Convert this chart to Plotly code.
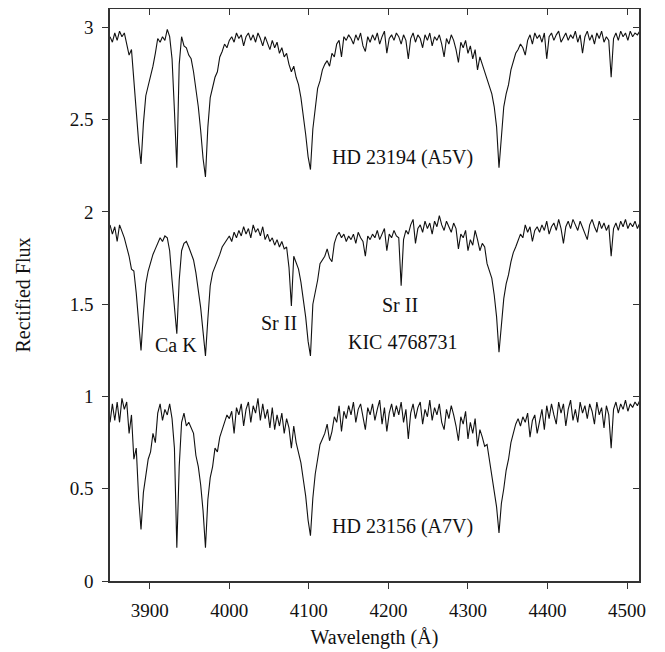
import plotly.graph_objects as go

# Wavelength sampling grid (Angstrom), 3 A steps from 3850 to 4516
wavelength = list(range(3850, 4517, 3))

# Rectified flux (each spectrum ~1 at continuum), rows of 10 samples = 30 A
flux_hd23194 = [
    0.95, 0.92, 0.97, 0.93, 0.98, 0.95, 0.97, 0.90, 0.85, 0.88,  # 3850
    0.70, 0.55, 0.38, 0.26, 0.48, 0.63, 0.68, 0.73, 0.79, 0.86,  # 3880
    0.94, 0.92, 0.95, 0.93, 0.99, 0.95, 0.83, 0.55, 0.24, 0.80,  # 3910
    0.95, 0.90, 0.89, 0.85, 0.83, 0.76, 0.67, 0.57, 0.44, 0.29,  # 3940
    0.19, 0.46, 0.62, 0.68, 0.73, 0.76, 0.84, 0.87, 0.91, 0.89,  # 3970
    0.93, 0.95, 0.92, 0.97, 0.94, 0.96, 0.90, 0.95, 0.97, 0.93,  # 4000
    0.96, 0.92, 0.97, 0.94, 0.90, 0.95, 0.91, 0.88, 0.93, 0.89,  # 4030
    0.92, 0.86, 0.89, 0.84, 0.86, 0.80, 0.76, 0.79, 0.73, 0.69,  # 4060
    0.62, 0.53, 0.42, 0.30, 0.23, 0.45, 0.58, 0.67, 0.71, 0.77,  # 4090
    0.80, 0.82, 0.79, 0.86, 0.84, 0.91, 0.93, 0.84, 0.95, 0.93,  # 4120
    0.96, 0.94, 0.91, 0.96, 0.93, 0.97, 0.90, 0.87, 0.95, 0.92,  # 4150
    0.96, 0.93, 0.97, 0.91, 0.95, 0.98, 0.86, 0.94, 0.96, 0.93,  # 4180
    0.97, 0.95, 0.91, 0.96, 0.93, 0.83, 0.94, 0.97, 0.92, 0.96,  # 4210
    0.94, 0.89, 0.96, 0.93, 0.97, 0.90, 0.95, 0.93, 0.96, 0.91,  # 4240
    0.84, 0.94, 0.91, 0.96, 0.93, 0.88, 0.81, 0.92, 0.89, 0.93,  # 4270
    0.86, 0.90, 0.83, 0.88, 0.77, 0.84, 0.80, 0.76, 0.73, 0.69,  # 4300
    0.64, 0.57, 0.46, 0.24, 0.40, 0.57, 0.64, 0.69, 0.77, 0.81,  # 4330
    0.86, 0.88, 0.91, 0.89, 0.85, 0.93, 0.96, 0.91, 0.97, 0.94,  # 4360
    0.96, 0.92, 0.97, 0.83, 0.95, 0.97, 0.93, 0.96, 0.98, 0.92,  # 4390
    0.95, 0.97, 0.93, 0.96, 0.94, 0.98, 0.92, 0.96, 0.86, 0.95,  # 4420
    0.98, 0.93, 0.96, 0.91, 0.97, 0.94, 0.98, 0.92, 0.95, 0.93,  # 4450
    0.73, 0.94, 0.97, 0.93, 0.98, 0.95, 0.97, 0.93, 0.98, 0.95,  # 4480
    0.97, 0.96, 0.98,                                            # 4510
]

flux_kic4768731 = [
    0.93, 0.88, 0.92, 0.84, 0.93, 0.90, 0.86, 0.81, 0.76, 0.69,  # 3850
    0.68, 0.56, 0.40, 0.25, 0.45, 0.61, 0.68, 0.73, 0.77, 0.80,  # 3880
    0.83, 0.86, 0.84, 0.87, 0.86, 0.79, 0.63, 0.46, 0.34, 0.63,  # 3910
    0.79, 0.83, 0.84, 0.81, 0.77, 0.74, 0.67, 0.58, 0.48, 0.35,  # 3940
    0.22, 0.42, 0.60, 0.67, 0.70, 0.73, 0.77, 0.81, 0.83, 0.85,  # 3970
    0.87, 0.84, 0.89, 0.86, 0.90, 0.87, 0.92, 0.88, 0.91, 0.86,  # 4000
    0.93, 0.89, 0.91, 0.87, 0.92, 0.85, 0.88, 0.84, 0.86, 0.82,  # 4030
    0.85, 0.81, 0.84, 0.80, 0.81, 0.70, 0.49, 0.76, 0.73, 0.69,  # 4060
    0.62, 0.53, 0.43, 0.30, 0.22, 0.50, 0.56, 0.63, 0.72, 0.74,  # 4090
    0.76, 0.80, 0.75, 0.73, 0.83, 0.87, 0.89, 0.86, 0.88, 0.84,  # 4120
    0.87, 0.85, 0.88, 0.83, 0.89, 0.86, 0.84, 0.76, 0.87, 0.85,  # 4150
    0.88, 0.86, 0.90, 0.85, 0.88, 0.91, 0.79, 0.88, 0.86, 0.90,  # 4180
    0.87, 0.86, 0.60, 0.85, 0.90, 0.88, 0.93, 0.96, 0.83, 0.91,  # 4210
    0.93, 0.89, 0.95, 0.91, 0.94, 0.88, 0.95, 0.92, 0.98, 0.93,  # 4240
    0.90, 0.95, 0.92, 0.89, 0.94, 0.91, 0.80, 0.88, 0.86, 0.90,  # 4270
    0.79, 0.85, 0.82, 0.90, 0.85, 0.79, 0.83, 0.81, 0.72, 0.68,  # 4300
    0.64, 0.55, 0.43, 0.24, 0.40, 0.53, 0.61, 0.66, 0.73, 0.78,  # 4330
    0.81, 0.85, 0.88, 0.86, 0.93, 0.89, 0.92, 0.84, 0.90, 0.92,  # 4360
    0.89, 0.93, 0.90, 0.95, 0.88, 0.92, 0.94, 0.90, 0.96, 0.91,  # 4390
    0.83, 0.92, 0.95, 0.91, 0.96, 0.93, 0.90, 0.95, 0.92, 0.88,  # 4420
    0.85, 0.93, 0.96, 0.92, 0.89, 0.95, 0.91, 0.94, 0.90, 0.93,  # 4450
    0.76, 0.91, 0.94, 0.90, 0.95, 0.92, 0.96, 0.91, 0.94, 0.92,  # 4480
    0.95, 0.91, 0.94,                                            # 4510
]

flux_hd23156 = [
    0.86, 0.96, 0.87, 0.97, 0.86, 0.99, 0.93, 0.97, 0.80, 0.90,  # 3850
    0.66, 0.72, 0.45, 0.28, 0.48, 0.58, 0.66, 0.70, 0.80, 0.75,  # 3880
    0.91, 0.96, 0.87, 0.93, 0.90, 0.96, 0.88, 0.72, 0.18, 0.62,  # 3910
    0.86, 0.91, 0.84, 0.86, 0.83, 0.80, 0.68, 0.62, 0.52, 0.38,  # 3940
    0.18, 0.44, 0.56, 0.62, 0.72, 0.70, 0.78, 0.82, 0.86, 0.90,  # 3970
    0.88, 0.92, 0.80, 0.94, 0.90, 0.96, 0.84, 0.93, 0.97, 0.86,  # 4000
    0.95, 0.91, 0.99, 0.87, 0.96, 0.88, 0.93, 0.83, 0.94, 0.82,  # 4030
    0.90, 0.84, 0.91, 0.80, 0.88, 0.83, 0.72, 0.84, 0.75, 0.70,  # 4060
    0.64, 0.55, 0.46, 0.33, 0.245, 0.45, 0.58, 0.66, 0.74, 0.77,  # 4090
    0.80, 0.85, 0.76, 0.81, 0.89, 0.86, 0.95, 0.81, 0.92, 0.88,  # 4120
    0.95, 0.90, 0.97, 0.86, 0.93, 0.96, 0.88, 0.82, 0.94, 0.90,  # 4150
    0.96, 0.87, 0.93, 0.98, 0.85, 0.94, 0.81, 0.91, 0.96, 0.89,  # 4180
    0.95, 0.90, 0.97, 0.86, 0.93, 0.77, 0.91, 0.96, 0.88, 0.94,  # 4210
    0.97, 0.85, 0.93, 0.89, 0.98, 0.87, 0.94, 0.90, 0.96, 0.86,  # 4240
    0.82, 0.93, 0.88, 0.95, 0.90, 0.84, 0.76, 0.89, 0.85, 0.92,  # 4270
    0.77, 0.86, 0.80, 0.88, 0.73, 0.82, 0.78, 0.73, 0.74, 0.66,  # 4300
    0.58, 0.50, 0.40, 0.26, 0.42, 0.50, 0.60, 0.66, 0.75, 0.80,  # 4330
    0.85, 0.88, 0.84, 0.89, 0.86, 0.91, 0.78, 0.87, 0.90, 0.80,  # 4360
    0.86, 0.93, 0.82, 0.95, 0.88, 0.96, 0.90, 0.85, 0.97, 0.91,  # 4390
    0.96, 0.84, 0.93, 0.98, 0.87, 0.93, 0.86, 0.97, 0.91, 0.95,  # 4420
    0.88, 0.96, 0.92, 0.85, 0.97, 0.90, 0.94, 0.83, 0.95, 0.90,  # 4450
    0.72, 0.93, 0.97, 0.91, 0.96, 0.93, 0.98, 0.92, 0.96, 0.94,  # 4480
    0.97, 0.95, 0.98,                                            # 4510
]

# Vertical offsets of the stacked spectra
offsets = {"HD 23194 (A5V)": 2.0, "KIC 4768731": 1.0, "HD 23156 (A7V)": 0.0}
spectra = {
    "HD 23194 (A5V)": flux_hd23194,
    "KIC 4768731": flux_kic4768731,
    "HD 23156 (A7V)": flux_hd23156,
}

x_ticks = [3900, 4000, 4100, 4200, 4300, 4400, 4500]
y_ticks = [0, 0.5, 1, 1.5, 2, 2.5, 3]
y_ticktext = ["0", "0.5", "1", "1.5", "2", "2.5", "3"]

# Text labels: (text, wavelength, flux)
labels = [
    ("HD 23194 (A5V)", 4218, 2.295),
    ("KIC 4768731", 4218, 1.295),
    ("HD 23156 (A7V)", 4218, 0.295),
    ("Ca K", 3933, 1.28),
    ("Sr II", 4062, 1.397),
    ("Sr II", 4215, 1.494),
]

FONT = "Liberation Serif"
x_range = [3850, 4515]
y_range = [0, 3.1]

fig = go.Figure()
for name, flux in spectra.items():
    off = offsets[name]
    fig.add_trace(go.Scatter(
        x=wavelength, y=[v + off for v in flux], mode="lines",
        line=dict(color="#111111", width=1.1), name=name, showlegend=False,
    ))

# dummy trace to activate mirror axes (inward ticks on top/right)
fig.add_trace(go.Scatter(x=[None], y=[None], xaxis="x2", yaxis="y2",
                         showlegend=False, hoverinfo="skip"))

for text, xv, yv in labels:
    fig.add_annotation(x=xv, y=yv, text=text, showarrow=False,
                       font=dict(family=FONT, size=20, color="#111111"),
                       xanchor="center", yanchor="middle")

axis_common = dict(showgrid=False, zeroline=False, linecolor="#333333", linewidth=1.5,
                   tickcolor="#333333", tickwidth=1.2, ticklen=6, automargin=False,
                   tickfont=dict(family=FONT, size=19, color="#111111"))

# page has an 8px body margin, so the figure is sized/margined to compensate
fig.update_layout(
    width=657, height=644,
    margin=dict(l=102, r=26, t=1, b=71),
    paper_bgcolor="white", plot_bgcolor="white",
    xaxis=dict(range=x_range, tickvals=x_ticks, ticks="outside", showline=True,
               mirror=True, ticklabelstandoff=5,
               title=dict(text="Wavelength (Å)", font=dict(family=FONT, size=20, color="#111111"),
                          standoff=10),
               **axis_common),
    yaxis=dict(range=y_range, tickvals=y_ticks, ticktext=y_ticktext, ticks="outside",
               showline=True, mirror=True, ticklabelstandoff=5,
               title=dict(text="Rectified Flux", font=dict(family=FONT, size=20, color="#111111"),
                          standoff=34),
               **axis_common),
    xaxis2=dict(range=x_range, tickvals=x_ticks, ticks="inside", showticklabels=False,
                overlaying="x", side="top", anchor="y2", showgrid=False, zeroline=False,
                showline=False, tickcolor="#333333", tickwidth=1.2, ticklen=6,
                automargin=False),
    yaxis2=dict(range=y_range, tickvals=y_ticks, ticks="inside", showticklabels=False,
                overlaying="y", side="right", anchor="x2", showgrid=False, zeroline=False,
                showline=False, tickcolor="#333333", tickwidth=1.2, ticklen=6,
                automargin=False),
)

fig.write_html("out.html")
